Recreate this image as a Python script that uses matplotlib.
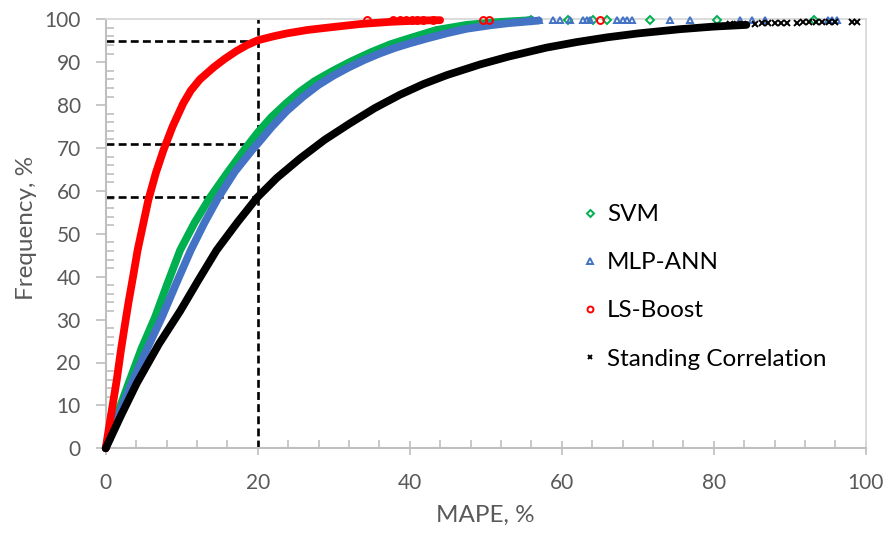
import matplotlib
matplotlib.use('Agg')
import matplotlib.pyplot as plt
from matplotlib.lines import Line2D
from matplotlib.ticker import MultipleLocator

plt.rcParams['font.family'] = ['Lato', 'DejaVu Sans']

# ---------------- data ----------------
svm_x = [0, 1.5, 3.0, 4.7, 6.5, 8.1, 9.8, 11.7, 13.7, 16.0, 18.2, 20.0, 21.8, 23.8, 25.6,
         27.5, 30.0, 32.3, 35.0, 37.5, 40.0, 43.5, 47.5, 52.0, 56.0]
svm_y = [0, 7.8, 15.1, 23.2, 30.6, 38.3, 46.2, 52.6, 58.4, 64.2, 69.5, 73.6, 77.2, 80.5, 83.2,
         85.6, 88.1, 90.2, 92.4, 94.2, 95.6, 97.5, 98.7, 99.4, 99.8]
svm_tail_x = [56.0, 60.8, 64.1, 66.0, 71.6, 80.4, 93.2]
svm_tail_y = [99.9, 99.9, 99.9, 99.9, 99.9, 99.9, 99.9]

mlp_x = [0, 1.7, 3.4, 5.4, 7.4, 9.3, 11.2, 13.0, 14.8, 17.0, 19.3, 20.0, 21.8, 23.8, 26.0,
         28.0, 30.0, 32.0, 34.0, 36.0, 38.0, 40.0, 42.2, 45.0, 47.5, 50.6, 53.0, 55.0, 57.0]
mlp_y = [0, 7.8, 15.1, 23.0, 30.6, 38.5, 46.2, 52.6, 58.4, 64.5, 69.6, 71.0, 74.8, 78.6, 82.0,
         84.7, 86.9, 88.8, 90.5, 92.0, 93.3, 94.4, 95.5, 96.8, 97.8, 98.6, 99.1, 99.4, 99.7]
mlp_tail_x = [55.5, 56.2, 57.0, 58.9, 59.8, 61.1, 62.8, 63.3, 63.7, 67.3, 68.0, 68.6, 69.2,
              74.2, 76.9, 83.5, 85.0, 86.7, 95.0, 95.6, 96.2]
mlp_tail_y = [99.9] * 21

ls_x = [0, 0.5, 1.0, 1.45, 2.0, 2.5, 3.0, 3.6, 4.2, 4.9, 5.6, 6.6, 7.6, 8.8, 10.2, 11.2, 12.4,
        14.2, 15.6, 17.2, 18.6, 20.0, 22.0, 23.8, 26.5, 29.9, 33.5, 37.4, 41.0, 44.0]
ls_y = [0, 5.5, 11.0, 15.9, 22.8, 28.5, 34.0, 40.0, 46.2, 52.0, 57.8, 64.2, 69.5, 75.0, 80.4,
        83.4, 86.0, 88.8, 90.7, 92.6, 94.0, 95.1, 96.0, 96.7, 97.5, 98.2, 98.9, 99.4, 99.7, 99.8]
ls_tail_x = [34.4, 37.8, 38.7, 39.5, 40.3, 41.0, 41.8, 43.1, 49.6, 50.4, 65.0]
ls_tail_y = [99.8] * 11

sc_x = [0, 2.0, 4.1, 7.0, 9.8, 12.2, 14.6, 17.3, 19.9, 22.5, 25.6, 28.8, 32.1, 35.4, 38.7,
        41.8, 44.9, 49.3, 53.0, 58.0, 62.0, 66.0, 70.0, 75.6, 80.0, 84.3]
sc_y = [0, 7.6, 15.2, 24.3, 32.0, 39.2, 46.2, 52.6, 58.4, 63.0, 67.6, 71.9, 75.7, 79.3, 82.4,
        84.9, 87.0, 89.5, 91.3, 93.4, 94.7, 95.8, 96.7, 97.7, 98.3, 98.7]
sc_tail_x = [82.2, 83.0, 83.8, 85.4, 86.3, 87.2, 88.0, 88.8, 89.7, 91.0, 91.8, 92.6, 93.4, 94.2, 95.2, 96.0, 98.2, 98.8]
sc_tail_y = [98.9, 98.9, 99.0, 99.0, 99.1, 99.1, 99.1, 99.2, 99.2, 99.2, 99.3, 99.3, 99.3, 99.3, 99.4, 99.4, 99.4, 99.4]

ref_x = 20
ref_y = [95, 71, 58.5]

labels = ['SVM', 'MLP-ANN', 'LS-Boost', 'Standing Correlation']
colors = ['#00B050', '#4472C4', '#FF0000', '#000000']
markers = ['D', '^', 'o', 'x']

# ---------------- figure ----------------
W, H = 888, 534
fig = plt.figure(figsize=(W / 100, H / 100), dpi=100)
L, R, T, B = 105.7, 865.7, 19.3, 448.3
ax = fig.add_axes([L / W, 1 - B / H, (R - L) / W, (B - T) / H])

ax.set_xlim(0, 100)
ax.set_ylim(0, 100)

# reference dashed lines
dash = (0, (3.0, 1.6))
ax.plot([ref_x, ref_x], [0, 100], color='black', lw=1.9, ls=dash, zorder=2)
for yv in ref_y:
    ax.plot([0, ref_x], [yv, yv], color='black', lw=1.9, ls=dash, zorder=2)

series = [
    (svm_x, svm_y, svm_tail_x, svm_tail_y),
    (mlp_x, mlp_y, mlp_tail_x, mlp_tail_y),
    (ls_x, ls_y, ls_tail_x, ls_tail_y),
    (sc_x, sc_y, sc_tail_x, sc_tail_y),
]
msize = {'D': 4.2, '^': 5.0, 'o': 5.0, 'x': 4.2}
for i, ((x, y, tx, ty), c, m) in enumerate(zip(series, colors, markers)):
    ax.plot(x, y, color=c, lw=5.6, solid_capstyle='round', solid_joinstyle='round',
            zorder=3 + i, clip_on=False)
    ax.plot(tx, ty, ls='none', marker=m, mfc='none', mec=c, ms=msize[m], mew=1.4,
            zorder=3 + i, clip_on=False)

# spines
for s in ['left', 'bottom']:
    ax.spines[s].set_color('#BFBFBF')
    ax.spines[s].set_linewidth(1.5)
for s in ['top', 'right']:
    ax.spines[s].set_color('#D9D9D9')
    ax.spines[s].set_linewidth(1.3)

ax.xaxis.set_major_locator(MultipleLocator(20))
ax.xaxis.set_minor_locator(MultipleLocator(4))
ax.yaxis.set_major_locator(MultipleLocator(10))
ax.yaxis.set_minor_locator(MultipleLocator(2))

ax.tick_params(axis='x', which='major', direction='inout', length=10, width=1.2,
               color='#BFBFBF', pad=13, labelsize=15, labelcolor='#595959')
ax.tick_params(axis='y', which='major', direction='out', length=7, width=1.2,
               color='#BFBFBF', pad=11, labelsize=15, labelcolor='#595959')
ax.tick_params(which='minor', direction='in', length=6, width=1.2, color='#BFBFBF')

ax.set_xlabel('MAPE, %', fontsize=17.5, color='#595959')
ax.xaxis.set_label_coords((485 - L) / (R - L), (B - 505) / (B - T))
ax.set_ylabel('Frequency, %', fontsize=17.5, color='#595959')
ax.yaxis.set_label_coords((37 - L) / (R - L), (B - 228) / (B - T))

handles = [Line2D([], [], ls='none', marker=m, mfc='none', mec=c, ms=msize[m] * 0.85, mew=1.4)
           for c, m in zip(colors, markers)]
fs = 17.5
fs_px = fs * 100 / 72
ax.legend(handles, labels, loc='upper left',
          bbox_to_anchor=((590 - 0.4 * fs_px) / W, 1 - 204 / H),
          bbox_transform=fig.transFigure, frameon=False, fontsize=fs,
          handlelength=0.8, handletextpad=0.3, labelspacing=1.12,
          borderpad=0, borderaxespad=0)

fig.savefig('out.png', dpi=100)
